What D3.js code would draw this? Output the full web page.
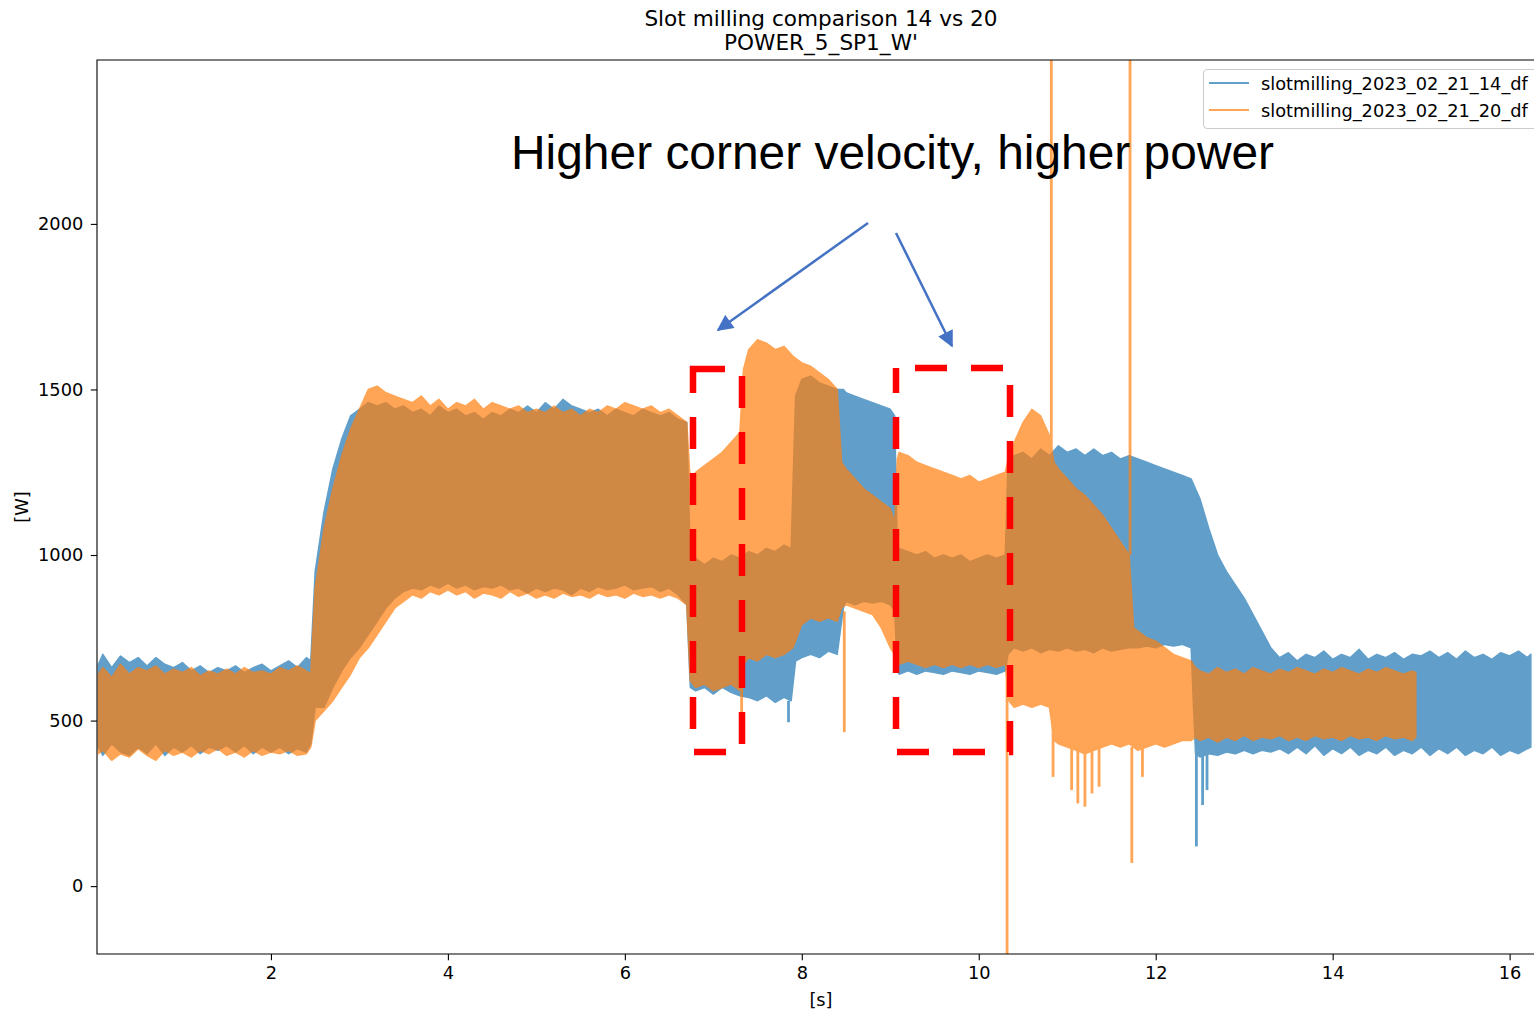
<!DOCTYPE html>
<html><head><meta charset="utf-8">
<script src="https://cdn.jsdelivr.net/npm/d3@7"></script>
<style>body{margin:0;background:#fff}svg{display:block}</style>
</head><body>
<svg id="c" width="1534" height="1013"></svg>
<script>
// ---------------- data ----------------
const titleLines = ["Slot milling comparison 14 vs 20", "POWER_5_SP1_W'"];
const seriesNames = ["slotmilling_2023_02_21_14_df", "slotmilling_2023_02_21_20_df"];
const xTicks = [2, 4, 6, 8, 10, 12, 14, 16];
const yTicks = [0, 500, 1000, 1500, 2000];
const xLabel = "[s]";
const yLabel = "[W]";
const annotation = "Higher corner velocity, higher power";

// Series 14 (blue): time [s], upper and lower envelope [W]
const blueT = [0.05,0.1,0.2,0.3,0.4,0.5,0.6,0.7,0.8,0.9,1.0,1.1,1.2,1.3,1.4,1.5,1.6,1.7,1.8,1.9,2.0,2.1,2.2,2.3,2.4,2.45,
  2.5,2.6,2.7,2.8,2.9,3.0,3.1,3.2,3.3,3.4,3.5,3.6,3.7,3.8,3.9,4.0,4.1,4.2,4.3,4.4,4.5,4.6,4.7,4.8,4.9,5.0,
  5.1,5.2,5.3,5.4,5.5,5.6,5.7,5.8,5.9,6.0,6.1,6.2,6.3,6.4,6.5,6.6,6.7,6.74,6.8,6.9,7.0,7.1,7.2,7.3,7.4,7.5,
  7.6,7.7,7.8,7.88,7.93,8.0,8.1,8.2,8.3,8.4,8.47,8.5,8.6,8.7,8.8,8.9,9.0,9.05,9.08,9.1,9.2,9.3,9.4,9.5,9.6,
  9.7,9.8,9.9,10.0,10.1,10.2,10.3,10.33,10.4,10.5,10.6,10.7,10.8,10.9,11.0,11.1,11.2,11.3,11.4,11.5,11.6,11.7,
  11.8,11.9,12.0,12.1,12.2,12.3,12.4,12.45,12.5,12.6,12.7,12.8,12.9,13.0,13.1,13.2,13.3,13.4,13.5,13.6,13.7,
  13.8,13.9,14.0,14.1,14.2,14.3,14.4,14.5,14.6,14.7,14.8,14.9,15.0,15.1,15.2,15.3,15.4,15.5,15.6,15.7,15.8,
  15.9,16.0,16.1,16.2,16.24];
const blueHi = [670,700,660,695,675,690,665,690,670,660,675,650,665,645,660,650,665,645,660,670,650,665,680,660,690,680,
  950,1130,1260,1350,1420,1440,1460,1450,1460,1440,1450,1430,1440,1420,1450,1430,1440,1420,1430,1410,1430,1420,1440,1430,1450,1430,
  1460,1440,1470,1450,1440,1430,1440,1420,1440,1430,1420,1440,1430,1420,1430,1410,1400,980,990,970,990,980,1000,990,1010,1000,
  1020,1010,1030,1020,1480,1530,1540,1520,1510,1500,1500,1490,1480,1470,1460,1450,1440,1420,1010,1020,1010,1000,1010,990,1000,
  990,1000,980,990,1000,990,1000,1270,1300,1310,1290,1320,1300,1330,1310,1320,1300,1320,1300,1310,1290,1300,
  1290,1280,1270,1260,1250,1240,1230,1200,1170,1080,1000,950,910,870,820,770,720,690,705,680,700,
  690,710,685,700,690,715,685,700,690,705,685,700,695,710,690,705,685,710,690,700,685,
  705,695,710,690,700];
const blueLo = [420,395,430,405,395,420,400,430,395,420,405,425,400,420,410,425,405,425,400,420,405,420,400,415,405,430,
  540,540,600,650,690,720,760,800,840,870,890,900,895,910,900,915,900,910,895,905,900,910,895,900,885,900,
  890,900,895,880,900,890,905,895,900,910,895,900,905,890,900,880,850,600,590,600,580,600,585,575,570,560,
  575,555,570,560,680,690,700,690,710,700,840,860,850,860,855,860,850,830,650,640,650,640,650,645,640,
  650,645,640,650,645,640,650,700,720,710,720,705,715,710,720,710,715,705,720,710,715,720,
  720,725,720,730,725,730,720,400,390,400,395,405,400,410,400,410,405,415,400,420,400,
  425,395,415,400,420,395,410,400,420,395,410,400,420,395,415,400,420,395,410,400,420,
  395,410,400,415,420];

// Series 20 (orange): time [s], upper and lower envelope [W]
const orangeT = [0.05,0.1,0.2,0.3,0.4,0.5,0.6,0.7,0.8,0.9,1.0,1.1,1.2,1.3,1.4,1.5,1.6,1.7,1.8,1.9,2.0,2.1,2.2,2.3,2.4,2.45,
  2.5,2.6,2.7,2.8,2.9,3.0,3.1,3.2,3.3,3.4,3.5,3.6,3.7,3.8,3.9,4.0,4.1,4.2,4.3,4.4,4.5,4.6,4.7,4.8,4.9,5.0,
  5.1,5.2,5.3,5.4,5.5,5.6,5.7,5.8,5.9,6.0,6.1,6.2,6.3,6.4,6.5,6.6,6.7,6.74,6.8,6.9,7.0,7.1,7.2,7.3,7.34,7.4,
  7.5,7.6,7.7,7.8,7.9,8.0,8.1,8.2,8.3,8.4,8.45,8.5,8.6,8.7,8.8,8.9,9.0,9.05,9.08,9.1,9.2,9.3,9.4,9.5,9.6,
  9.7,9.8,9.9,10.0,10.1,10.2,10.3,10.34,10.4,10.5,10.6,10.7,10.8,10.85,10.9,11.0,11.1,11.2,11.3,11.4,11.5,11.6,
  11.7,11.75,11.8,11.9,12.0,12.1,12.2,12.3,12.4,12.45,12.5,12.6,12.7,12.8,12.9,13.0,13.1,13.2,13.3,13.4,13.5,
  13.6,13.7,13.8,13.9,14.0,14.1,14.2,14.3,14.4,14.5,14.6,14.7,14.8,14.9,14.94];
const orangeHi = [640,660,630,670,640,660,650,665,640,655,645,660,635,650,640,655,640,660,645,650,640,660,650,665,650,640,
  900,1080,1200,1300,1380,1440,1500,1510,1490,1480,1470,1460,1480,1450,1470,1440,1460,1450,1470,1440,1460,1450,1440,1450,1430,1440,
  1430,1450,1430,1440,1420,1440,1430,1450,1440,1460,1450,1440,1450,1430,1440,1420,1400,1220,1250,1270,1290,1310,1340,1370,1560,1620,
  1650,1640,1620,1630,1600,1580,1570,1550,1530,1500,1280,1260,1230,1200,1180,1160,1140,1100,1290,1310,1300,1280,1270,1260,1250,
  1240,1230,1240,1220,1230,1240,1250,1300,1340,1400,1440,1420,1360,1280,1260,1230,1200,1180,1150,1120,1080,1040,
  1000,780,770,750,740,720,700,690,680,660,650,640,660,645,655,640,660,650,640,655,645,
  660,650,640,655,645,660,650,640,655,645,660,650,640,650,645];
const orangeLo = [400,410,380,400,390,415,395,380,410,395,405,390,410,400,415,395,405,390,410,395,405,400,410,395,400,420,
  500,530,560,600,640,690,720,760,800,840,860,880,870,890,880,895,880,890,870,885,880,870,890,875,885,870,
  880,870,885,875,880,870,885,875,880,870,885,875,880,870,880,870,850,620,600,610,590,600,610,590,670,690,
  680,700,690,700,720,790,810,800,810,800,840,850,840,830,820,780,720,700,680,670,680,670,660,670,660,
  670,660,670,660,670,660,670,560,540,550,540,550,540,440,430,420,410,400,410,420,430,420,
  430,420,410,420,430,420,430,440,440,450,440,450,435,450,440,455,440,450,445,455,440,
  450,440,455,445,450,440,455,445,450,440,455,445,450,440,450];

// Isolated spikes: [time, from, to]
const blueSpikes = [[7.85,560,495],[12.46,400,120],[12.53,400,245],[12.58,400,290]];
const orangeSpikes = [[7.32,620,525],[8.48,830,465],[10.32,700,-400],[10.82,1300,2600],[10.84,600,330],
  [11.05,450,290],[11.12,430,250],[11.2,420,240],[11.28,420,280],[11.36,430,300],
  [11.71,1000,2600],[11.73,420,70],[11.85,420,330]];

// ---------------- drawing ----------------
const svg = d3.select("#c");
const L = 97, T = 60, B = 954, R = 1545;
const x = d3.scaleLinear().domain([0.034, 16.4]).range([L, R]);
const y = d3.scaleLinear().domain([-205, 2495]).range([B, T]);
const mplFont = "'DejaVu Sans', sans-serif";
const FS = 17.8;
const BLUE = "#1f77b4", ORANGE = "#ff7f0e", ALPHA = 0.7;

svg.append("defs").append("clipPath").attr("id","clip")
  .append("rect").attr("x",L).attr("y",T).attr("width",R-L).attr("height",B-T);

const plot = svg.append("g").attr("clip-path","url(#clip)");

function drawSeries(ts, his, los, spikes, color){
  const pts = ts.map((t,i)=>({t, hi:his[i], lo:los[i]}));
  const area = d3.area().x(d=>x(d.t)).y0(d=>y(d.lo)).y1(d=>y(d.hi));
  const g = plot.append("g").attr("opacity", ALPHA);
  g.append("path").datum(pts).attr("d", area).attr("fill", color)
    .attr("stroke", color).attr("stroke-width", 1.5).attr("stroke-linejoin","round");
  g.selectAll("line.sp").data(spikes).join("line").attr("class","sp")
    .attr("x1", d=>x(d[0])).attr("x2", d=>x(d[0]))
    .attr("y1", d=>y(d[1])).attr("y2", d=>y(d[2]))
    .attr("stroke", color).attr("stroke-width", 2.8);
}
drawSeries(blueT, blueHi, blueLo, blueSpikes, BLUE);
drawSeries(orangeT, orangeHi, orangeLo, orangeSpikes, ORANGE);

// axes
const xAxis = svg.append("g").attr("transform",`translate(0,${B})`)
  .call(d3.axisBottom(x).tickValues(xTicks).tickSize(6.2).tickPadding(6).tickFormat(d3.format("d")));
const yAxis = svg.append("g").attr("transform",`translate(${L},0)`)
  .call(d3.axisLeft(y).tickValues(yTicks).tickSize(6.2).tickPadding(7.5).tickFormat(d3.format("d")));
[xAxis, yAxis].forEach(a=>{
  a.select(".domain").remove();
  a.selectAll("line").attr("stroke","#000").attr("stroke-width",1.1);
  a.selectAll("text").attr("font-family",mplFont).attr("font-size",FS).attr("fill","#000");
});
// spines (right spine lies outside the picture)
svg.append("path").attr("d",`M${R},${T}H${L}V${B}H${R}`).attr("fill","none")
  .attr("stroke","#000").attr("stroke-width",1.1);

// labels
svg.append("text").attr("x",(L+R)/2).attr("y",1006).attr("text-anchor","middle")
  .attr("font-family",mplFont).attr("font-size",FS).text(xLabel);
svg.append("text").attr("transform",`translate(28,${(T+B)/2}) rotate(-90)`).attr("text-anchor","middle")
  .attr("font-family",mplFont).attr("font-size",FS).text(yLabel);
titleLines.forEach((s,i)=>svg.append("text").attr("x",(L+R)/2).attr("y",26+i*23.5)
  .attr("text-anchor","middle").attr("font-family",mplFont).attr("font-size",21.6).text(s));

// legend
const lg = svg.append("g");
lg.append("rect").attr("x",1203.5).attr("y",69.5).attr("width",345).attr("height",59).attr("rx",4)
  .attr("fill","#fff").attr("fill-opacity",0.8).attr("stroke","#cccccc").attr("stroke-width",1.1);
[BLUE, ORANGE].forEach((c,i)=>{
  lg.append("line").attr("x1",1209).attr("x2",1249).attr("y1",83+i*27).attr("y2",83+i*27)
    .attr("stroke",c).attr("stroke-opacity",ALPHA).attr("stroke-width",2.1);
  lg.append("text").attr("x",1261).attr("y",89.5+i*27).attr("font-family",mplFont).attr("font-size",FS)
    .text(seriesNames[i]);
});

// annotation overlay
svg.append("text").attr("x",511).attr("y",169).attr("font-family","'Liberation Sans', Arial, sans-serif")
  .attr("font-size",47.9).attr("fill","#000").text(annotation);

const arrowC = "#4472c4";
const defs = svg.select("defs");
defs.append("marker").attr("id","ah").attr("viewBox","0 0 10 10").attr("refX",9).attr("refY",5)
  .attr("markerWidth",7).attr("markerHeight",6.5).attr("markerUnits","strokeWidth").attr("orient","auto")
  .append("path").attr("d","M0,0L10,5L0,10z").attr("fill",arrowC);
[[868,223,718,330],[896,233,952,346]].forEach(a=>{
  svg.append("line").attr("x1",a[0]).attr("y1",a[1]).attr("x2",a[2]).attr("y2",a[3])
    .attr("stroke",arrowC).attr("stroke-width",2.5).attr("marker-end","url(#ah)");
});

// red dashed boxes
[[693,369,742,752,0],[896,368,1010,752,37]].forEach(r=>{
  svg.append("path").attr("d",`M${r[0]},${r[1]}H${r[2]}V${r[3]}H${r[0]}Z`).attr("fill","none")
    .attr("stroke","#ff0000").attr("stroke-width",6.5).attr("stroke-dasharray","32 24")
    .attr("stroke-dashoffset",r[4]);
});
</script>
</body></html>
